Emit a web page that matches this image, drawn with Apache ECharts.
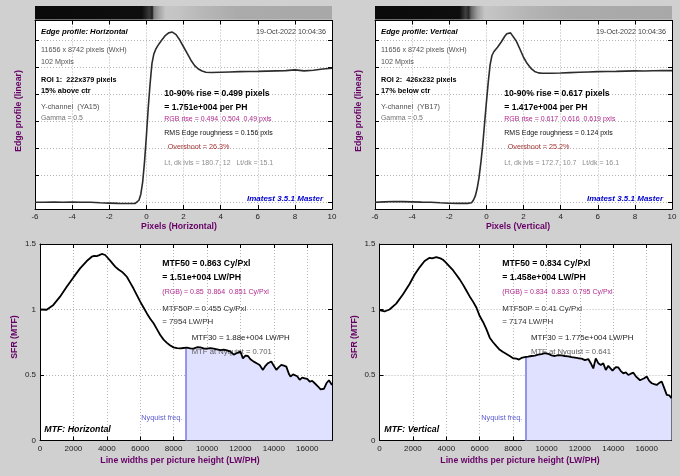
<!DOCTYPE html>
<html><head><meta charset="utf-8">
<script src="https://cdn.jsdelivr.net/npm/echarts@6/dist/echarts.min.js"></script>
<style>html,body{margin:0;padding:0;background:#d0d0d0;}#c{width:680px;height:476px;}</style>
</head><body><div id="c"></div>
<script>
// ---------------- DATA ----------------
const edgeX_H = [-6,-5.5,-5,-4.5,-4,-3.5,-3,-2.5,-2,-1.5,-1,-0.6,-0.5,-0.4,-0.3,-0.2,-0.1,0,0.1,0.2,0.3,0.4,0.5,0.6,0.8,1.0,1.2,1.4,1.6,1.8,2.0,2.2,2.4,2.6,2.8,3.0,3.2,3.5,4,4.5,5,5.5,6,6.5,7,7.5,8,8.5,9,9.5,10];
const edgeY_H = [0,0,0.002,0,0.001,0,0,-0.004,-0.006,-0.008,-0.009,-0.008,0,0.015,0.06,0.15,0.30,0.49,0.70,0.88,1.03,1.1,1.135,1.16,1.2,1.235,1.258,1.264,1.245,1.205,1.155,1.105,1.055,1.015,0.99,0.975,0.966,0.964,0.966,0.968,0.97,0.971,0.972,0.974,0.976,0.978,0.983,0.976,0.98,0.99,0.995];
const edgeX_V = [-6,-5.5,-5,-4.5,-4,-3.5,-3,-2.5,-2,-1.5,-1,-0.8,-0.7,-0.6,-0.5,-0.4,-0.3,-0.2,-0.1,0,0.1,0.2,0.3,0.4,0.5,0.6,0.8,1.0,1.1,1.2,1.3,1.4,1.6,1.8,2.0,2.2,2.4,2.6,2.8,3.0,3.5,4,4.5,5,5.5,6,6.5,7,7.5,8,8.5,9,9.5,10];
const edgeY_V = [0,0.003,0.006,0.005,0.003,0.001,0,-0.004,-0.007,-0.008,-0.008,-0.004,0.015,0.045,0.10,0.18,0.29,0.42,0.58,0.74,0.89,1.02,1.09,1.118,1.135,1.152,1.19,1.235,1.252,1.258,1.258,1.245,1.2,1.14,1.077,1.03,0.995,0.972,0.961,0.958,0.958,0.96,0.963,0.966,0.968,0.97,0.971,0.972,0.974,0.976,0.975,0.977,0.978,0.978];

const mtfX_H = [0,400,800,1200,1600,2000,2400,2800,3100,3250,3400,3550,3700,3800,3900,4050,4200,4350,4500,4700,4900,5050,5200,5400,5600,5800,6000,6200,6400,6600,6800,7000,7200,7400,7600,7800,8000,8200,8400,8600,8800,9000,9200,9400,9600,9800,10000,10200,10400,10600,10800,11000,11200,11400,11600,11800,12000,12150,12300,12450,12600,12800,13000,13150,13350,13500,13650,13850,14000,14150,14300,14450,14600,14750,14900,15000,15150,15250,15400,15550,15700,15850,16000,16150,16300,16450,16550,16650,16800,16900,17000,17150,17300,17400,17484];
const mtfY_H = [1.0,0.998,1.035,1.098,1.174,1.245,1.314,1.37,1.403,1.41,1.408,1.415,1.424,1.428,1.416,1.395,1.373,1.35,1.327,1.305,1.289,1.27,1.25,1.205,1.16,1.11,1.06,1.015,0.97,0.93,0.895,0.85,0.805,0.77,0.745,0.725,0.711,0.705,0.703,0.706,0.709,0.703,0.701,0.712,0.711,0.704,0.701,0.706,0.701,0.696,0.69,0.693,0.688,0.678,0.655,0.668,0.678,0.627,0.648,0.645,0.62,0.602,0.588,0.577,0.539,0.57,0.59,0.603,0.57,0.539,0.56,0.577,0.572,0.564,0.51,0.488,0.505,0.513,0.49,0.463,0.48,0.475,0.47,0.45,0.455,0.437,0.43,0.412,0.39,0.381,0.395,0.437,0.46,0.475,0.424];
const mtfX_V = [0,300,600,1000,1400,1800,2100,2400,2700,3000,3150,3250,3400,3500,3650,3800,3950,4200,4400,4600,4800,5000,5200,5400,5600,5800,6000,6200,6400,6600,6800,7000,7200,7400,7600,7800,8000,8200,8350,8500,8700,8900,9100,9300,9500,9700,9900,10100,10300,10500,10700,10900,11100,11300,11500,11700,11900,12100,12300,12500,12650,12800,12950,13100,13250,13400,13550,13700,13800,13950,14150,14300,14450,14600,14750,14900,15050,15200,15350,15450,15600,15700,15850,16000,16150,16300,16450,16600,16750,16900,17050,17200,17350,17484];
const mtfY_V = [0.996,0.985,1.0,1.045,1.115,1.195,1.265,1.322,1.37,1.395,1.39,1.383,1.4,1.402,1.39,1.38,1.362,1.328,1.3,1.265,1.23,1.19,1.145,1.1,1.06,1.015,0.95,0.905,0.85,0.785,0.75,0.72,0.692,0.675,0.66,0.645,0.628,0.625,0.618,0.63,0.636,0.64,0.645,0.648,0.655,0.66,0.667,0.662,0.65,0.645,0.652,0.65,0.645,0.642,0.636,0.632,0.628,0.625,0.614,0.622,0.59,0.55,0.627,0.59,0.576,0.589,0.538,0.57,0.576,0.533,0.56,0.558,0.53,0.513,0.52,0.5,0.51,0.518,0.49,0.475,0.46,0.457,0.475,0.488,0.455,0.437,0.43,0.424,0.44,0.45,0.4,0.348,0.345,0.322];

const nyquistLWPH = 8742;
const mtfMaxLWPH = 17484;
const mtfAtNyquistH = 0.701;
const mtfAtNyquistV = 0.641;
const edgeYTicks = [0,0.2,0.4,0.6,0.8,1.0,1.2];

// ---------------- HELPERS ----------------
const FF = "'Liberation Sans', Arial, Helvetica, sans-serif";
const zip = (xs, ys) => xs.map((x, i) => [x, ys[i]]);
const gridLine = {show: true, lineStyle: {color: '#b4b4b4', type: [1, 2], width: 1}};
const axLine = {show: true, onZero: false, lineStyle: {color: '#000', width: 1}};
const axTick = (extra) => Object.assign({show: true, inside: true, length: 4, lineStyle: {color: '#000', width: 1}}, extra || {});
const lbl = (extra) => Object.assign({color: '#222', fontSize: 8, fontFamily: FF, margin: 4, formatter: v => String(v)}, extra || {});

function xPair(gi, range) {
  const base = {type: 'value', gridIndex: gi, min: range.min, max: range.max, interval: range.interval, axisLine: axLine};
  return [
    Object.assign({}, base, {position: 'bottom', axisTick: axTick(), axisLabel: lbl({showMaxLabel: range.showMax}), splitLine: gridLine}),
    Object.assign({}, base, {position: 'top', axisTick: axTick(), axisLabel: {show: false}, splitLine: {show: false}})
  ];
}
function yPairEdge(gi) {
  const base = {type: 'value', gridIndex: gi, min: -0.05, max: 1.35, axisLine: axLine};
  return [
    Object.assign({}, base, {position: 'left', axisTick: axTick({customValues: edgeYTicks}), axisLabel: {show: false, customValues: edgeYTicks}, splitLine: gridLine}),
    Object.assign({}, base, {position: 'right', axisTick: axTick({customValues: edgeYTicks}), axisLabel: {show: false}, splitLine: {show: false}})
  ];
}
function yPairMTF(gi) {
  const base = {type: 'value', gridIndex: gi, min: 0, max: 1.5, interval: 0.5, axisLine: axLine};
  return [
    Object.assign({}, base, {position: 'left', axisTick: axTick(), axisLabel: lbl(), splitLine: gridLine}),
    Object.assign({}, base, {position: 'right', axisTick: axTick(), axisLabel: {show: false}, splitLine: {show: false}})
  ];
}

function T(x, y, text, o) {
  o = o || {};
  return {
    type: 'text', x: x, y: y, z: o.z != null ? o.z : 50, silent: true,
    rotation: o.rot || 0,
    style: {
      text: text,
      font: (o.style || 'normal') + ' ' + (o.weight || 'normal') + ' ' + (o.size || 7) + 'px ' + FF,
      fill: o.color || '#000',
      align: o.align || 'left',
      verticalAlign: 'middle'
    }
  };
}
const PURPLE = '#660066', MAG = '#b0288c', GRAY = '#505050', LGRAY = '#8c8c8c', RED = '#a03030', BLUE = '#0000d0';

function edgeTexts(dx, p) {
  return [
    T(41 + dx, 32.3, p.title, {style: 'italic', weight: 'bold', size: 7.7}),
    T(326 + dx, 32.3, '19-Oct-2022 10:04:36', {size: 7.2, color: '#404040', align: 'right'}),
    T(41 + dx, 50, '11656 x 8742 pixels (WxH)', {size: 7.2, color: GRAY}),
    T(41 + dx, 62.3, '102 Mpxls', {size: 7.2, color: GRAY}),
    T(41 + dx, 80, p.roi, {weight: 'bold', size: 7.2}),
    T(41 + dx, 91, p.pos, {weight: 'bold', size: 7.4}),
    T(41 + dx, 107.3, p.chan, {size: 7.3, color: GRAY}),
    T(41 + dx, 118.3, 'Gamma = 0.5', {size: 6.9, color: '#707070'}),
    T(164.3 + dx, 94, p.rise, {weight: 'bold', size: 8.6}),
    T(164.3 + dx, 107.7, p.perPH, {weight: 'bold', size: 8.6}),
    T(164.3 + dx, 119.3, p.rgb, {size: 7, color: MAG}),
    T(164.3 + dx, 133.3, p.rms, {size: 7, color: '#101010'}),
    T(167.7 + dx, 146.7, p.over, {size: 7.2, color: RED}),
    T(164.3 + dx, 162.7, p.lvls, {size: 7, color: LGRAY}),
    T(323 + dx, 199, 'Imatest 3.5.1 Master', {style: 'italic', weight: 'bold', size: 8, color: BLUE, align: 'right'}),
    T(19 + dx, 111, 'Edge profile (linear)', {weight: 'bold', size: 8.7, color: PURPLE, align: 'center', rot: Math.PI / 2}),
    T(p.xtx + dx, 227, p.xtitle, {weight: 'bold', size: 8.7, color: PURPLE, align: 'center'})
  ];
}
function mtfTexts(dx, p) {
  return [
    T(162.3 + dx, 263.3, p.m50, {weight: 'bold', size: 8.7}),
    T(162.3 + dx, 277.3, p.m50lw, {weight: 'bold', size: 8.7}),
    T(162.3 + dx, 291.7, p.rgb, {size: 7, color: MAG}),
    T(162.3 + dx, 309, p.m50p, {size: 7.9, color: '#303030'}),
    T(162.3 + dx, 321.7, p.m50plw, {size: 7.9, color: '#303030'}),
    T(p.m30x + dx, 338.3, p.m30, {size: 7.9, color: '#202020'}),
    T(p.m30x + dx, 351.7, p.nyq, {size: 7.7, color: '#606060', z: 3}),
    T(44.3 + dx, 430, p.title, {style: 'italic', weight: 'bold', size: 8.8}),
    T(182.3 + dx, 418.3, 'Nyquist freq.', {size: 7.3, color: '#5a5ad0', align: 'right'}),
    T(15 + dx, 337, 'SFR (MTF)', {weight: 'bold', size: 8.7, color: PURPLE, align: 'center', rot: Math.PI / 2}),
    T(180 + dx, 461, 'Line widths per picture height (LW/PH)', {weight: 'bold', size: 8.7, color: PURPLE, align: 'center'})
  ];
}
function strip(x, stops) {
  return {type: 'rect', z: 1, silent: true, shape: {x: x, y: 6, width: 297, height: 13.5},
    style: {fill: {type: 'linear', x: 0, y: 0, x2: 1, y2: 0, colorStops: stops}}};
}

function mtfSeries(ax, xs, ys, nyqVal) {
  const pts = zip(xs, ys);
  const fill = [[nyquistLWPH, nyqVal]].concat(pts.filter(p => p[0] > nyquistLWPH));
  return [
    {type: 'line', xAxisIndex: ax, yAxisIndex: ax, data: fill, showSymbol: false, z: 1,
     lineStyle: {width: 0, opacity: 0}, areaStyle: {color: '#e0e0ff', opacity: 1}, silent: true,
     markLine: {silent: true, symbol: ['none', 'none'], label: {show: false},
       lineStyle: {color: '#7878e0', width: 1.5, type: 'solid'},
       data: [[{coord: [nyquistLWPH, 0]}, {coord: [nyquistLWPH, nyqVal]}]]}},
    {type: 'line', xAxisIndex: ax, yAxisIndex: ax, data: pts, showSymbol: false, z: 5,
     lineStyle: {color: '#000', width: 1.8}}
  ];
}

// ---------------- CHART ----------------
const chart = echarts.init(document.getElementById('c'), null, {renderer: 'canvas'});
const edgeRange = {min: -6, max: 10, interval: 2, showMax: true};
const mtfRange = {min: 0, max: mtfMaxLWPH, interval: 2000, showMax: false};

const option = {
  animation: false,
  backgroundColor: '#d0d0d0',
  grid: [
    {left: 35, top: 20.5, width: 297, height: 188.5, show: true, backgroundColor: '#fff', borderWidth: 0},
    {left: 375, top: 20.5, width: 297, height: 188.5, show: true, backgroundColor: '#fff', borderWidth: 0},
    {left: 40, top: 244, width: 292, height: 196.5, show: true, backgroundColor: '#fff', borderWidth: 0},
    {left: 379.5, top: 244, width: 292, height: 196.5, show: true, backgroundColor: '#fff', borderWidth: 0}
  ],
  xAxis: [].concat(xPair(0, edgeRange), xPair(1, edgeRange), xPair(2, mtfRange), xPair(3, mtfRange)),
  yAxis: [].concat(yPairEdge(0), yPairEdge(1), yPairMTF(2), yPairMTF(3)),
  series: [
    {type: 'line', xAxisIndex: 0, yAxisIndex: 0, data: zip(edgeX_H, edgeY_H), showSymbol: false, z: 5,
     lineStyle: {color: '#2c2c2c', width: 1.6}},
    {type: 'line', xAxisIndex: 2, yAxisIndex: 2, data: zip(edgeX_V, edgeY_V), showSymbol: false, z: 5,
     lineStyle: {color: '#2c2c2c', width: 1.6}}
  ].concat(mtfSeries(4, mtfX_H, mtfY_H, mtfAtNyquistH), mtfSeries(6, mtfX_V, mtfY_V, mtfAtNyquistV)),
  graphic: {elements: [].concat(
    [strip(35, [
      {offset: 0, color: '#0a0a0a'}, {offset: 0.36, color: '#0e0e0e'}, {offset: 0.385, color: '#3a3a3a'},
      {offset: 0.395, color: '#202020'}, {offset: 0.40, color: '#808080'}, {offset: 0.415, color: '#a0a0a0'},
      {offset: 0.44, color: '#c6c6c6'}, {offset: 0.48, color: '#c4c4c4'}, {offset: 0.56, color: '#b8b8b8'},
      {offset: 0.68, color: '#ababab'}, {offset: 1, color: '#a8a8a8'}]),
     strip(375, [
      {offset: 0, color: '#0a0a0a'}, {offset: 0.285, color: '#0e0e0e'}, {offset: 0.305, color: '#404040'},
      {offset: 0.315, color: '#2a2a2a'}, {offset: 0.325, color: '#686868'}, {offset: 0.345, color: '#a0a0a0'},
      {offset: 0.37, color: '#c6c6c6'}, {offset: 0.42, color: '#c0c0c0'}, {offset: 0.52, color: '#b4b4b4'},
      {offset: 0.65, color: '#ababab'}, {offset: 1, color: '#a8a8a8'}])],
    edgeTexts(0, {title: 'Edge profile: Horizontal', roi: 'ROI 1:  222x379 pixels', pos: '15% above ctr',
      chan: 'Y-channel  (YA15)', rise: '10-90% rise = 0.499 pixels', perPH: '= 1.751e+004 per PH',
      rgb: 'RGB rise = 0.494  0.504  0.49 pxls', rms: 'RMS Edge roughness = 0.156 pxls',
      over: 'Overshoot = 26.3%', lvls: 'Lt, dk lvls = 180.7, 12   Lt/dk = 15.1',
      xtitle: 'Pixels (Horizontal)', xtx: 179}),
    edgeTexts(340, {title: 'Edge profile: Vertical', roi: 'ROI 2:  426x232 pixels', pos: '17% below ctr',
      chan: 'Y-channel  (YB17)', rise: '10-90% rise = 0.617 pixels', perPH: '= 1.417e+004 per PH',
      rgb: 'RGB rise = 0.617  0.616  0.619 pxls', rms: 'RMS Edge roughness = 0.124 pxls',
      over: 'Overshoot = 25.2%', lvls: 'Lt, dk lvls = 172.7, 10.7   Lt/dk = 16.1',
      xtitle: 'Pixels (Vertical)', xtx: 178}),
    mtfTexts(0, {m50: 'MTF50 = 0.863 Cy/Pxl', m50lw: '= 1.51e+004 LW/PH',
      rgb: '(RGB) = 0.85  0.864  0.851 Cy/Pxl', m50p: 'MTF50P = 0.455 Cy/Pxl', m50plw: '= 7954 LW/PH',
      m30: 'MTF30 = 1.88e+004 LW/PH', m30x: 191.7, nyq: 'MTF at Nyquist = 0.701', title: 'MTF: Horizontal'}),
    mtfTexts(340, {m50: 'MTF50 = 0.834 Cy/Pxl', m50lw: '= 1.458e+004 LW/PH',
      rgb: '(RGB) = 0.834  0.833  0.795 Cy/Pxl', m50p: 'MTF50P = 0.41 Cy/Pxl', m50plw: '= 7174 LW/PH',
      m30: 'MTF30 = 1.775e+004 LW/PH', m30x: 191, nyq: 'MTF at Nyquist = 0.641', title: 'MTF: Vertical'})
  )}
};
chart.setOption(option);
</script></body></html>
